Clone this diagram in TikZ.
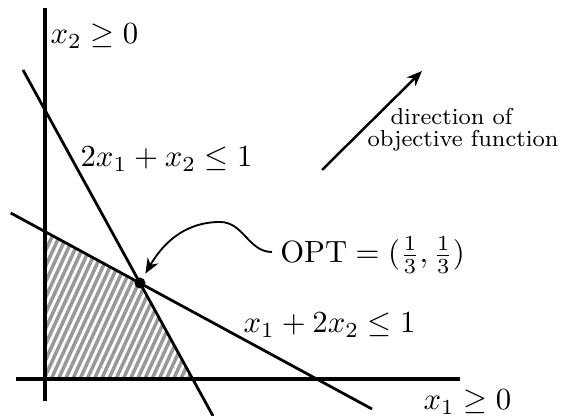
\documentclass[tikz,border=0pt]{standalone}
\usetikzlibrary{arrows.meta}
\begin{document}
\begin{tikzpicture}[x=0.3257pt,y=-0.3257pt]
\tikzset{
  axisline/.style={line width=1pt},
  constraint/.style={line width=0.9pt},
  hatchline/.style={line width=1.15pt, black!40},
  lbl/.style={inner sep=0pt, anchor=base west},
  smalllbl/.style={inner sep=0pt, anchor=base west, font=\fontsize{7.5}{9}\selectfont},
  pointer/.style={line width=0.6pt, -{Stealth[length=5pt,width=4pt]}, shorten >=1.5pt},
  objarrow/.style={line width=0.8pt, -{Stealth[length=5pt,width=4pt]}},
  optdot/.style={circle, fill, inner sep=0pt, minimum size=3.6pt},
}
\useasboundingbox (0,0) rectangle (561,416);
% key points
\coordinate (ytop) at (45,8);
\coordinate (ybot) at (45,401);
\coordinate (xl) at (16,379);
\coordinate (xr) at (460,379);
\coordinate (aTop) at (23,70);
\coordinate (aBot) at (213,416);
\coordinate (bL) at (10.7,213);
\coordinate (bR) at (372,409);
\coordinate (orig) at (45,379);
\coordinate (xA) at (192.5,379);
\coordinate (yB) at (45,231.6);
\coordinate (P) at (140,283);
% hatched feasible region
\begin{scope}
  \clip (orig) -- (xA) -- (P) -- (yB) -- cycle;
  \foreach \i in {0,...,46} {
    \draw[hatchline] ({-110+\i*7.2},385) -- ++(155,-336);
  }
\end{scope}
% axes and constraints
\draw[axisline] (ytop) -- (ybot);
\draw[axisline] (xl) -- (xr);
\draw[constraint] (aTop) -- (aBot);
\draw[constraint] (bL) -- (bR);
% optimum
\node[optdot] (dot) at (P) {};
% labels
\node[lbl] (l1) at (50,44) {$x_2 \geq 0$};
\node[lbl] (l2) at (80,167) {$2x_1 + x_2 \leq 1$};
\node[lbl, inner sep=2.5pt] (optlbl) at (272,263) {$\mathrm{OPT} = (\frac{1}{3}, \frac{1}{3})$};
\node[lbl] (l3) at (243,333) {$x_1 + 2x_2 \leq 1$};
\node[lbl] (l4) at (423,410) {$x_1 \geq 0$};
\node[smalllbl] (d1) at (390,125) {direction of};
\node[smalllbl] (d2) at (367,147) {objective function};
% pointer to OPT
\coordinate (mid) at (220,222);
\draw[pointer] ([shift={(0,-11)}]optlbl.base west) to[out=180,in=0] (mid) to[out=180,in=60] (dot);
% objective direction
\coordinate (objS) at (322,170);
\coordinate (objE) at (422,71);
\draw[objarrow] (objS) -- (objE);
\end{tikzpicture}
\end{document}
